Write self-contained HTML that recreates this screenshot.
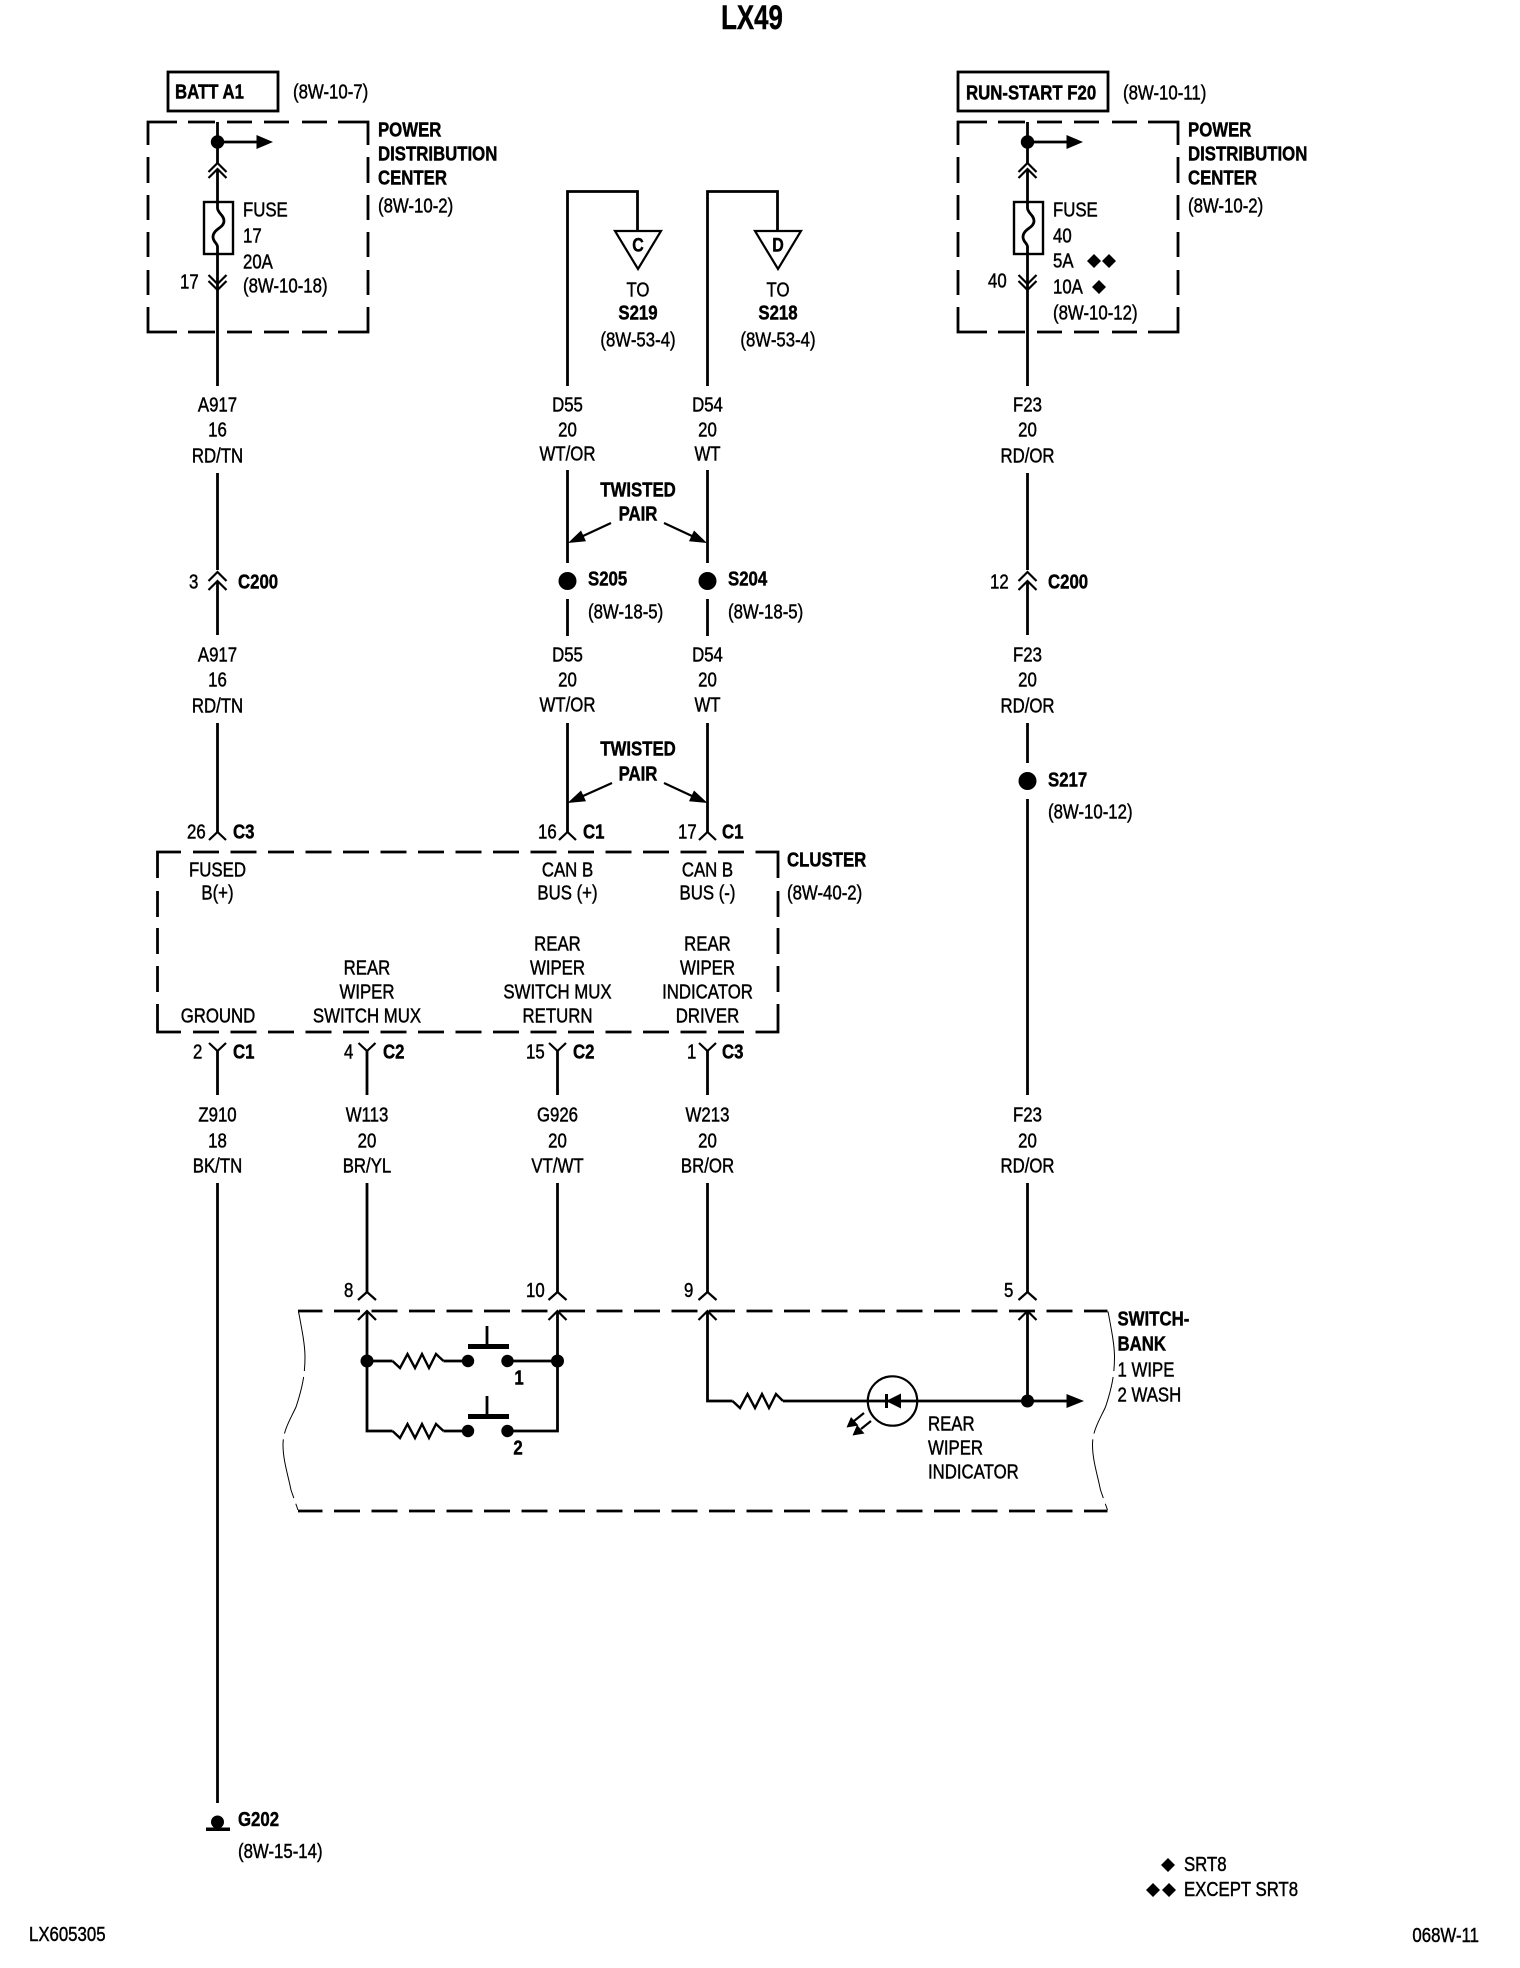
<!DOCTYPE html>
<html>
<head>
<meta charset="utf-8">
<style>
html,body{margin:0;padding:0;background:#fff}
svg{display:block}
text{font:20px "Liberation Sans",sans-serif;fill:#000;stroke:#000;stroke-width:.45;transform-box:fill-box;transform-origin:left center;transform:translateY(-.7px) scaleX(.84)}
text.m{text-anchor:middle;transform-origin:center}
text.e{text-anchor:end;transform-origin:right center}
text.b{font-weight:bold}
.w{fill:none;stroke:#000;stroke-width:2.8}
.t{fill:none;stroke:#000;stroke-width:2.2}
.k{fill:#000;stroke:none}
.f{fill:none;stroke:#000;stroke-width:1}
</style>
</head>
<body>
<svg width="1520" height="1968" viewBox="0 0 1520 1968" xmlns="http://www.w3.org/2000/svg">
<rect width="1520" height="1968" fill="#fff"/>
<text class="m b" x="752" y="29" style="font-size:34px;transform:scaleX(.76)">LX49</text>

<!-- Source boxes -->
<rect class="w" x="168" y="72" width="110" height="39"/>
<rect class="w" x="958" y="72" width="150" height="39"/>
<text class="b" x="175" y="99">BATT A1</text>
<text x="293" y="99">(8W-10-7)</text>
<text class="b" x="966" y="100">RUN-START F20</text>
<text x="1123" y="100">(8W-10-11)</text>

<!-- PDC left -->
<g id="pdcL">
<path class="w" d="M148 145V122H177M188 122H215M227 122H252M264 122H289M302 122H327M338 122H368V145M368 157V183M368 195V220M368 232V257M368 270V295M368 307V332H338M327 332H302M289 332H264M252 332H227M215 332H188M177 332H148V307M148 295V270M148 257V232M148 220V195M148 183V157"/>
<path class="w" d="M217.5 122V163M217.5 169V208C217.5 213 224 215 224 221C224 228 213 229 213 237C213 242 217.5 243 217.5 247V386M217.5 142H258"/>
<circle class="k" cx="217.5" cy="142" r="6.7"/>
<path class="k" d="M256.5 135L273 142L256.5 149Z"/>
<path class="t" d="M208.500 172L217.5 163L226.500 172M208.500 178L217.5 169L226.500 178"/>
<rect class="w" x="204" y="202" width="29" height="52" style="stroke-width:2.4"/>
<path class="t" d="M208.500 275L217.5 284L226.500 275M208.500 281L217.5 290L226.500 281"/>
</g>
<!-- PDC right -->
<g transform="translate(810 0)">
<path class="w" d="M148 145V122H177M188 122H215M227 122H252M264 122H289M302 122H327M338 122H368V145M368 157V183M368 195V220M368 232V257M368 270V295M368 307V332H338M327 332H302M289 332H264M252 332H227M215 332H188M177 332H148V307M148 295V270M148 257V232M148 220V195M148 183V157"/>
<path class="w" d="M217.5 122V163M217.5 169V208C217.5 213 224 215 224 221C224 228 213 229 213 237C213 242 217.5 243 217.5 247V386M217.5 142H258"/>
<circle class="k" cx="217.5" cy="142" r="6.7"/>
<path class="k" d="M256.5 135L273 142L256.5 149Z"/>
<path class="t" d="M208.500 172L217.5 163L226.500 172M208.500 178L217.5 169L226.500 178"/>
<rect class="w" x="204" y="202" width="29" height="52" style="stroke-width:2.4"/>
<path class="t" d="M208.500 275L217.5 284L226.500 275M208.500 281L217.5 290L226.500 281"/>
</g>

<text class="b" x="378" y="137">POWER</text>
<text class="b" x="378" y="161">DISTRIBUTION</text>
<text class="b" x="378" y="185">CENTER</text>
<text x="378" y="213">(8W-10-2)</text>
<text x="243" y="217">FUSE</text>
<text x="243" y="243">17</text>
<text x="243" y="269">20A</text>
<text x="243" y="293">(8W-10-18)</text>
<text x="180" y="289">17</text>

<text class="b" x="1188" y="137">POWER</text>
<text class="b" x="1188" y="161">DISTRIBUTION</text>
<text class="b" x="1188" y="185">CENTER</text>
<text x="1188" y="213">(8W-10-2)</text>
<text x="1053" y="217">FUSE</text>
<text x="1053" y="243">40</text>
<text x="1053" y="268">5A</text>
<text x="1053" y="294">10A</text>
<text x="1053" y="320">(8W-10-12)</text>
<text x="988" y="288">40</text>
<path class="k" d="M1094 254l7 7l-7 7l-7-7ZM1109 254l7 7l-7 7l-7-7ZM1099 280l7 7l-7 7l-7-7Z"/>

<!-- Wire labels row 1 -->
<text class="m" x="217.5" y="412">A917</text><text class="m" x="217.5" y="437">16</text><text class="m" x="217.5" y="463">RD/TN</text>
<text class="m" x="567.5" y="412">D55</text><text class="m" x="567.5" y="437">20</text><text class="m" x="567.5" y="461">WT/OR</text>
<text class="m" x="707.5" y="412">D54</text><text class="m" x="707.5" y="437">20</text><text class="m" x="707.5" y="461">WT</text>
<text class="m" x="1027.5" y="412">F23</text><text class="m" x="1027.5" y="437">20</text><text class="m" x="1027.5" y="463">RD/OR</text>

<!-- Wire labels row 2 -->
<text class="m" x="217.5" y="662">A917</text><text class="m" x="217.5" y="687">16</text><text class="m" x="217.5" y="713">RD/TN</text>
<text class="m" x="567.5" y="662">D55</text><text class="m" x="567.5" y="687">20</text><text class="m" x="567.5" y="712">WT/OR</text>
<text class="m" x="707.5" y="662">D54</text><text class="m" x="707.5" y="687">20</text><text class="m" x="707.5" y="712">WT</text>
<text class="m" x="1027.5" y="662">F23</text><text class="m" x="1027.5" y="687">20</text><text class="m" x="1027.5" y="713">RD/OR</text>

<!-- Wires -->
<path class="w" d="M217.5 473V570M217.5 581V635M217.5 723V832"/>
<path class="w" d="M1027.5 473V570M1027.5 581V635M1027.5 723V763M1027.5 799V1095M1027.5 1183V1292"/>
<path class="t" d="M208.500 581L217.5 572L226.500 581M208.500 590L217.5 581L226.500 590"/>
<path class="t" d="M1018.500 581L1027.5 572L1036.500 581M1018.500 590L1027.5 581L1036.500 590"/>
<text x="189" y="589">3</text><text class="b" x="238" y="589">C200</text>
<text x="990" y="589">12</text><text class="b" x="1048" y="589">C200</text>
<circle class="k" cx="1027.5" cy="781" r="9"/>
<text class="b" x="1048" y="787">S217</text>
<text x="1048" y="819">(8W-10-12)</text>

<!-- D wires -->
<path class="w" d="M567.5 386V191.5H637.5V231M707.5 386V191.5H777.5V231"/>
<path class="t" d="M615 231H661L638 269ZM755 231H801L778 269Z"/>
<text class="m b" x="638" y="252" style="font-size:19px">C</text>
<text class="m b" x="778" y="252" style="font-size:19px">D</text>
<text class="m" x="638" y="297">TO</text><text class="m b" x="638" y="320">S219</text><text class="m" x="638" y="347">(8W-53-4)</text>
<text class="m" x="778" y="297">TO</text><text class="m b" x="778" y="320">S218</text><text class="m" x="778" y="347">(8W-53-4)</text>
<path class="w" d="M567.5 470V563M567.5 599V636M567.5 723V832M707.5 470V563M707.5 599V636M707.5 723V832"/>
<text class="m b" x="638" y="497">TWISTED</text><text class="m b" x="638" y="521">PAIR</text>
<path class="t" d="M611 523L583 536M664 523L692 536"/>
<path class="k" d="M568 543L581 530.500L586 541.300ZM707 543L689 541.300L694 530.500Z"/>
<circle class="k" cx="567.5" cy="581" r="9"/><circle class="k" cx="707.5" cy="581" r="9"/>
<text class="b" x="588" y="586">S205</text><text x="588" y="619">(8W-18-5)</text>
<text class="b" x="728" y="586">S204</text><text x="728" y="619">(8W-18-5)</text>
<text class="m b" x="638" y="756">TWISTED</text><text class="m b" x="638" y="781">PAIR</text>
<path class="t" d="M612 783L583 796M664 783L692 796"/>
<path class="k" d="M567.500 803L581 790.500L586 801.300ZM707.500 803L689 801.300L694 790.500Z"/>

<!-- Cluster -->
<path class="t" d="M209 840L217.5 832L226 840M559 840L567.5 832L576 840M699 840L707.5 832L716 840"/>
<text x="187" y="839">26</text><text class="b" x="233" y="839">C3</text>
<text x="538" y="839">16</text><text class="b" x="583" y="839">C1</text>
<text x="678" y="839">17</text><text class="b" x="722" y="839">C1</text>
<path class="w" d="M157.5 878V852H181M157.5 891V917M157.5 928V954M157.5 966V992M157.5 1004V1032H181M778 878V852H755.500M778 891V917M778 928V954M778 966V992M778 1004V1032H755.500"/>
<path class="w" d="M193 852H744M193 1032H744" stroke-dasharray="26 11.500"/>
<text class="m" x="217.5" y="877">FUSED</text><text class="m" x="217.5" y="900">B(+)</text>
<text class="m" x="567.5" y="877">CAN B</text><text class="m" x="567.5" y="900">BUS (+)</text>
<text class="m" x="707.5" y="877">CAN B</text><text class="m" x="707.5" y="900">BUS (-)</text>
<text class="b" x="787" y="867">CLUSTER</text><text x="787" y="900">(8W-40-2)</text>
<text class="m" x="218" y="1023">GROUND</text>
<text class="m" x="367" y="975">REAR</text><text class="m" x="367" y="999">WIPER</text><text class="m" x="367" y="1023">SWITCH MUX</text>
<text class="m" x="557.5" y="951">REAR</text><text class="m" x="557.5" y="975">WIPER</text><text class="m" x="557.5" y="999">SWITCH MUX</text><text class="m" x="557.5" y="1023">RETURN</text>
<text class="m" x="707.5" y="951">REAR</text><text class="m" x="707.5" y="975">WIPER</text><text class="m" x="707.5" y="999">INDICATOR</text><text class="m" x="707.5" y="1023">DRIVER</text>

<!-- Lower connectors -->
<path class="t" d="M209 1043L217.5 1051L226 1043M358.5 1043L367 1051L375.5 1043M549 1043L557.5 1051L566 1043M699 1043L707.5 1051L716 1043"/>
<path class="w" d="M217.5 1051V1095M367 1051V1095M557.5 1051V1095M707.5 1051V1095"/>
<text x="193" y="1059">2</text><text class="b" x="233" y="1059">C1</text>
<text x="344" y="1059">4</text><text class="b" x="383" y="1059">C2</text>
<text x="526" y="1059">15</text><text class="b" x="573" y="1059">C2</text>
<text x="687" y="1059">1</text><text class="b" x="722" y="1059">C3</text>
<text class="m" x="217.5" y="1122">Z910</text><text class="m" x="217.5" y="1148">18</text><text class="m" x="217.5" y="1173">BK/TN</text>
<text class="m" x="367" y="1122">W113</text><text class="m" x="367" y="1148">20</text><text class="m" x="367" y="1173">BR/YL</text>
<text class="m" x="557.5" y="1122">G926</text><text class="m" x="557.5" y="1148">20</text><text class="m" x="557.5" y="1173">VT/WT</text>
<text class="m" x="707.5" y="1122">W213</text><text class="m" x="707.5" y="1148">20</text><text class="m" x="707.5" y="1173">BR/OR</text>
<text class="m" x="1027.5" y="1122">F23</text><text class="m" x="1027.5" y="1148">20</text><text class="m" x="1027.5" y="1173">RD/OR</text>
<path class="w" d="M217.5 1183V1803M367 1183V1292M557.5 1183V1292M707.5 1183V1292"/>

<!-- Ground -->
<path class="k" d="M206 1827.5H230V1831H206Z"/>
<circle class="k" cx="217.5" cy="1822" r="6.5"/>
<text class="b" x="238" y="1826.500">G202</text><text x="238" y="1858.500">(8W-15-14)</text>

<!-- Switch bank -->
<path class="w" d="M298 1311H1107.5M298 1511H1107.5" stroke-dasharray="26 11.5" stroke-dashoffset="1.5"/>
<path class="f" stroke-dasharray="60 6" d="M298.5 1311.5C302 1330 305 1345 305 1357C305 1380 300 1395 296 1407C290 1420 283 1430 283 1445C283 1460 288 1475 291 1490L298 1510"/>
<path class="f" stroke-dasharray="60 6" d="M1108 1311.5C1111.500 1330 1114.500 1345 1114.500 1357C1114.500 1380 1109.500 1395 1105.500 1407C1099.500 1420 1092.500 1430 1092.500 1445C1092.500 1460 1097.500 1475 1100.500 1490L1107.500 1510"/>
<path class="t" d="M358 1300L367 1292L376 1300M358 1320L367 1311L376 1320M548.500 1300L557.500 1292L566.500 1300M548.500 1320L557.500 1311L566.500 1320M698.500 1300L707.500 1292L716.500 1300M698.500 1320L707.500 1311L716.500 1320M1018.500 1300L1027.500 1292L1036.500 1300M1018.500 1320L1027.500 1311L1036.500 1320"/>
<text x="344" y="1297.500">8</text><text x="526" y="1297.500">10</text><text x="684" y="1297.500">9</text><text x="1004" y="1297.500">5</text>
<path class="w" d="M367 1311V1431H392.500M557.500 1311V1431H507.500M367 1361H392.500M443.500 1361H468M507.500 1361H557.500M443.500 1431H468"/>
<path class="t" style="stroke-width:2.4" d="M392.500 1361L400 1368L407.500 1354L415 1368L422 1354L429 1368L436 1354L443.500 1361M392.500 1431L400 1438L407.500 1424L415 1438L422 1424L429 1438L436 1424L443.500 1431"/>
<circle class="k" cx="367" cy="1361" r="6.500"/><circle class="k" cx="557.500" cy="1361" r="6.500"/>
<circle class="k" cx="468" cy="1361" r="6.200"/><circle class="k" cx="507.500" cy="1361" r="6.200"/>
<circle class="k" cx="468" cy="1431" r="6.200"/><circle class="k" cx="507.500" cy="1431" r="6.200"/>
<path class="k" d="M468 1344H509V1349H468ZM468 1414H509V1419H468Z"/>
<path class="w" d="M487 1326V1346M487 1396V1416"/>
<text class="m b" x="519" y="1385">1</text><text class="m b" x="518" y="1455">2</text>

<path class="w" d="M707.500 1311V1401H732.500M783 1401H1068M1027.500 1311V1401"/>
<path class="t" style="stroke-width:2.4" d="M732.500 1401L740 1408L747.500 1394L755 1408L762 1394L769 1408L776 1394L783 1401"/>
<circle class="k" cx="1027.500" cy="1401" r="6.500"/>
<path class="k" d="M1066.500 1394L1084 1401L1066.500 1408Z"/>
<circle class="w" cx="892.500" cy="1401" r="24.700" style="stroke-width:2.2"/>
<path class="k" d="M886 1401L901 1393.500V1408.500ZM885 1394H888V1408H885Z"/>
<path class="t" d="M864 1413L854 1421M871 1421L861 1429"/>
<path class="k" d="M846.500 1427.500L851 1417L858.500 1425.500ZM852.500 1435.500L857 1425L864.500 1433.500Z"/>
<text x="928" y="1431">REAR</text><text x="928" y="1455">WIPER</text><text x="928" y="1479">INDICATOR</text>
<text class="b" x="1117.500" y="1326">SWITCH-</text><text class="b" x="1117.500" y="1351">BANK</text>
<text x="1117.500" y="1377">1 WIPE</text><text x="1117.500" y="1402">2 WASH</text>

<!-- Legend -->
<path class="k" d="M1168 1858l7 7l-7 7l-7-7ZM1153 1883l7 7l-7 7l-7-7ZM1169 1883l7 7l-7 7l-7-7Z"/>
<text x="1184" y="1871.500">SRT8</text>
<text x="1184" y="1896.500">EXCEPT SRT8</text>
<text x="29" y="1941.500">LX605305</text>
<text class="e" x="1479" y="1942.500">068W-11</text>
</svg>
</body>
</html>
